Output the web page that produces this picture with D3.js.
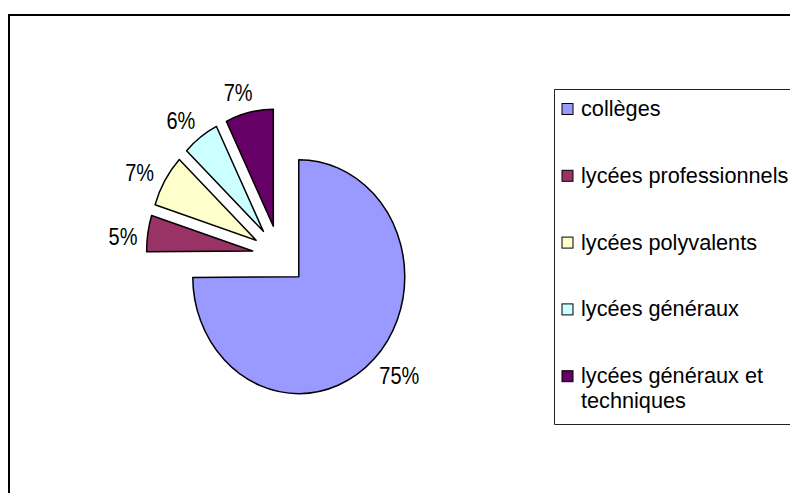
<!DOCTYPE html>
<html>
<head>
<meta charset="utf-8">
<script src="https://cdn.jsdelivr.net/npm/d3@7"></script>
<style>
  html, body { margin: 0; padding: 0; background: #fff; }
  svg { display: block; }
  text { font-family: "Liberation Sans", Arial, sans-serif; fill: #000; }
</style>
</head>
<body>
<svg id="chart" width="790" height="493"></svg>
<script>
// ---- data ----
const categories = ["collèges", "lycées professionnels", "lycées polyvalents", "lycées généraux", "lycées généraux et techniques"];
const legendLines = [["collèges"], ["lycées professionnels"], ["lycées polyvalents"], ["lycées généraux"], ["lycées généraux et", "techniques"]];
const values = [74.9, 5.0, 7.2, 5.6, 7.3];
const colors = ["#9999FF", "#993366", "#FFFFCC", "#CCFFFF", "#660066"];

// ---- layout ----
const W = 790, H = 493;
const svg = d3.select("#chart");

// outer chart border (extends past right/bottom edges)
svg.append("path")
  .attr("d", `M9,${H + 5} V15 H${W + 5}`)
  .attr("fill", "none").attr("stroke", "#000").attr("stroke-width", 2);

const cx = 279.5, cy = 255.5;
const ry = 117, sx = 106 / 117;   // elliptical pie
const explode = 30;

const total = d3.sum(values);
const pie = d3.pie().sort(null).value(d => d).startAngle(0).endAngle(2 * Math.PI);
const arcs = pie(values);
const arc = d3.arc().innerRadius(0).outerRadius(ry);

const gPie = svg.append("g");
const labelFs = 20, labelStretch = 1.15;
arcs.forEach((a, i) => {
  const mid = (a.startAngle + a.endAngle) / 2;
  const ex = cx + sx * explode * Math.sin(mid);
  const ey = cy - explode * Math.cos(mid);
  gPie.append("path")
    .attr("d", arc(a))
    .attr("transform", `translate(${ex},${ey}) scale(${sx},1)`)
    .attr("fill", colors[i])
    .attr("stroke", "#000")
    .attr("stroke-width", 1.5)
    .attr("vector-effect", "non-scaling-stroke")
    .attr("stroke-linejoin", "round");

  // data label
  const t = svg.append("text")
    .attr("font-size", labelFs)
    .attr("text-anchor", "middle")
    .text(Math.round(a.value / total * 100) + "%");
  const w = t.node().getComputedTextLength();
  const h = 0.716 * labelFs * labelStretch;
  const phi = mid - 2.5 * Math.PI / 180;
  const s = Math.sin(phi), c = Math.cos(phi);
  const rr = 157 + (w / 2) * Math.abs(s) / sx + (h / 2) * Math.abs(c);
  const lx = cx + sx * rr * s;
  const ly = cy - rr * c;
  t.attr("transform", `translate(${lx},${ly}) scale(1,${labelStretch})`)
   .attr("x", 0).attr("y", 0.358 * labelFs);
});

// ---- legend ----
const lg = svg.append("g");
lg.append("path")
  .attr("d", `M${W + 5},89.5 H554.5 V424.5 H${W + 5}`)
  .attr("fill", "none").attr("stroke", "#222").attr("stroke-width", 1);

const rowStep = 66.8, base0 = 116;
categories.forEach((c, i) => {
  const by = base0 + i * rowStep;
  lg.append("rect")
    .attr("x", 562).attr("y", by - 12.5)
    .attr("width", 11).attr("height", 11)
    .attr("fill", colors[i]).attr("stroke", "#000").attr("stroke-width", 1);
  legendLines[i].forEach((ln, j) => {
    lg.append("text")
      .attr("x", 581).attr("y", by + j * 25)
      .attr("font-size", 21.7)
      .text(ln);
  });
});
</script>
</body>
</html>
